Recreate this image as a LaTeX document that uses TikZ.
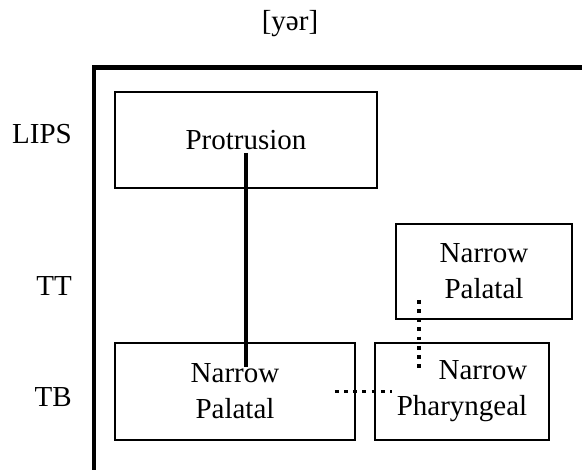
\documentclass[tikz,border=0pt]{standalone}
\usepackage{fontspec}
\setmainfont{Liberation Serif}
\usetikzlibrary{positioning, calc}
\tikzset{
  tierbox/.style={
    rectangle, draw=black, line width=1.6pt,
    minimum width=#1, align=center, inner sep=0pt,
    font=\fontsize{29}{36}\selectfont
  },
  tierlabel/.style={
    anchor=east, inner sep=0pt,
    font=\fontsize{29}{36}\selectfont
  },
  frameline/.style={line width=4.5pt, line cap=rect},
  assoc/.style={line width=3.8pt},
  phasing/.style={line width=3.8pt, dash pattern=on 3.8pt off 5.4pt}
}
\begin{document}
\begin{tikzpicture}[x=1pt, y=-1pt]
  \useasboundingbox (0,0) rectangle (582,470);
  % title
  \node[inner sep=0pt, font=\fontsize{29}{36}\selectfont] (title) at (290,24) {[yər]};
  % tier frame
  \coordinate (frametr) at (584,67.5);
  \coordinate (frametl) at (94,67.5);
  \coordinate (framebl) at (94,472);
  \draw[frameline] (frametr) -- (frametl) -- (framebl);
  % tier labels
  \node[tierlabel] (lips) at (72,134) {LIPS};
  \node[tierlabel] (tt) at (72,286) {TT};
  \node[tierlabel] (tb) at (72,397) {TB};
  % gestures
  \node[tierbox=262pt, minimum height=96pt] (prot) at (246,140) {Protrusion};
  \node[tierbox=176pt, minimum height=95pt] (ttpal) at (484,271.5)
    {Narrow\\Palatal};
  \node[tierbox=240pt, minimum height=97pt] (tbpal) at (235,391.5)
    {Narrow\\Palatal};
  \node[tierbox=174pt, minimum height=97pt, align=right] (tbphar) at (462,391.5)
    {Narrow\\Pharyngeal};
  % coupling lines
  \draw[assoc] ([yshift=-13pt]prot.center) -- ([yshift=24.5pt]prot.center |- tbpal.center);
  \draw[phasing] ([xshift=-21pt]tbpal.east) -- ([xshift=18pt]tbphar.west);
  \draw[phasing] ([xshift=24pt, yshift=20pt]ttpal.south west)
    -- ([xshift=24pt, yshift=-27pt]ttpal.south west |- tbphar.north);
\end{tikzpicture}
\end{document}
